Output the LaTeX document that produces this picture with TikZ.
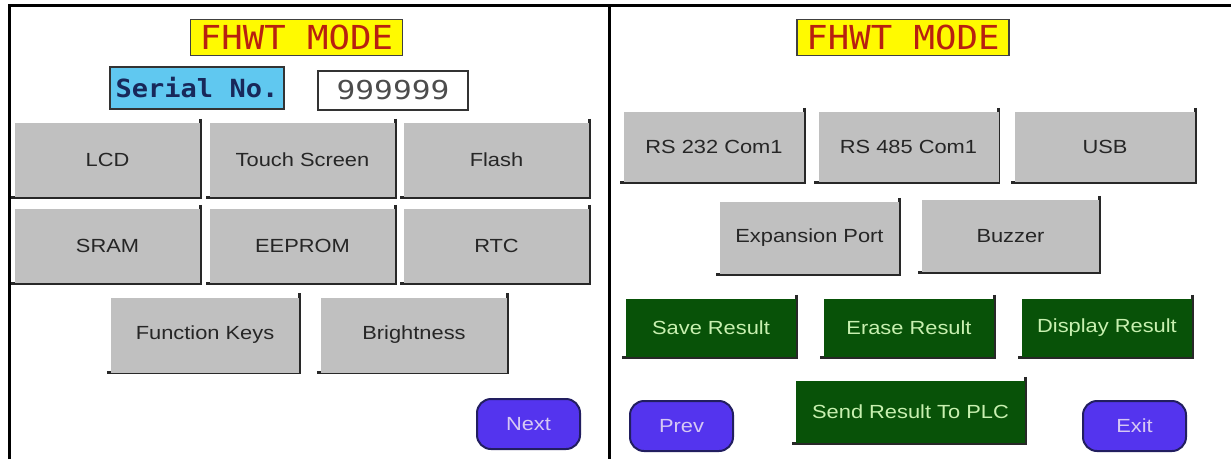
\documentclass[tikz,border=0pt]{standalone}
\usepackage{fontspec}
\setmainfont{Liberation Sans}[FakeStretch=1.15]
\newfontfamily\lcdfont{DejaVu Sans Mono}[FakeStretch=1.08]
\newfontfamily\numfont{DejaVu Sans Mono}[FakeStretch=1.2]
\usetikzlibrary{positioning}

\definecolor{btngrey}{RGB}{192,192,192}
\definecolor{btnedge}{RGB}{40,40,40}
\definecolor{okgreen}{RGB}{8,82,8}
\definecolor{oktext}{RGB}{200,240,176}
\definecolor{navpurple}{RGB}{84,52,238}
\definecolor{navedge}{RGB}{34,30,96}
\definecolor{navtext}{RGB}{214,200,244}
\definecolor{titleyellow}{RGB}{255,250,0}
\definecolor{titlered}{RGB}{184,32,16}
\definecolor{serialblue}{RGB}{96,200,240}
\definecolor{serialtext}{RGB}{24,40,90}

\begin{document}
\begin{tikzpicture}[x=1pt, y=-1pt,
  bevel/.style={append after command={\pgfextra{\draw[btnedge, line width=3pt] ([yshift=4pt]\tikzlastnode.north east) -- (\tikzlastnode.south east) -- ([xshift=-4pt]\tikzlastnode.south west);}}},
  greybtn/.style={rectangle, fill=btngrey, inner sep=0pt, text=black!85, font=\fontsize{19}{22}\selectfont, bevel},
  greenbtn/.style={rectangle, fill=okgreen, inner sep=0pt, text=oktext, font=\fontsize{19}{22}\selectfont, bevel},
  navbtn/.style={rectangle, rounded corners=14pt, draw=navedge, line width=2pt, fill=navpurple, inner sep=0pt, text=navtext, minimum width=103pt, minimum height=50pt, font=\fontsize{19}{22}\selectfont},
  titlebox/.style={rectangle, draw=black!75, line width=1.5pt, fill=titleyellow, text=titlered, inner sep=0pt, minimum width=212pt, minimum height=36pt, font=\lcdfont\fontsize{33}{36}\selectfont}]
\useasboundingbox (0,0) rectangle (1231,459);
\fill[white] (0,0) rectangle (1231,459);
\draw[line width=3pt] (9,459) |- (1231,5);
\draw[line width=3pt] (609,5) -- (609,459);

\node[titlebox] (ltitle) at (296.5,37.5) {FHWT MODE};
\node[rectangle, draw=black!80, line width=2pt, fill=serialblue, text=serialtext, inner sep=0pt, minimum width=174pt, minimum height=42pt, font=\lcdfont\bfseries\fontsize{25}{28}\selectfont] (serial) at (197,88) {Serial No.};
\node[rectangle, draw=black!80, line width=1.5pt, fill=white, text=black!70, inner sep=0pt, minimum width=150pt, minimum height=39pt, font=\numfont\fontsize{26}{28}\selectfont] (serialno) at (393,90.5) {999999};

\node[greybtn, minimum width=185pt, minimum height=74pt] (lcd) at (107.5,160) {LCD};
\node[greybtn, minimum width=185pt, minimum height=74pt] (touch) at (302.5,160) {Touch Screen};
\node[greybtn, minimum width=185pt, minimum height=74pt] (flash) at (496.5,160) {Flash};
\node[greybtn, minimum width=185pt, minimum height=74pt] (sram) at (107.5,246) {SRAM};
\node[greybtn, minimum width=185pt, minimum height=74pt] (eeprom) at (302.5,246) {EEPROM};
\node[greybtn, minimum width=185pt, minimum height=74pt] (rtc) at (496.5,246) {RTC};
\node[greybtn, minimum width=188pt, minimum height=75pt] (fkeys) at (205,335) {Function Keys};
\node[greybtn, minimum width=186pt, minimum height=75pt] (bright) at (414,335) {Brightness};
\node[navbtn] (next) at (528.5,424) {Next};

\node[titlebox] (rtitle) at (903,37.5) {FHWT MODE};
\node[greybtn, minimum width=180pt, minimum height=70pt] (rs232) at (714,147) {RS 232 Com1};
\node[greybtn, minimum width=180pt, minimum height=70pt] (rs485) at (908.5,147) {RS 485 Com1};
\node[greybtn, minimum width=180pt, minimum height=70pt] (usb) at (1105,147) {USB};
\node[greybtn, minimum width=179pt, minimum height=72pt] (expport) at (809.5,238) {Expansion Port};
\node[greybtn, minimum width=177pt, minimum height=72pt] (buzzer) at (1010.5,236) {Buzzer};
\node[greenbtn, minimum width=170pt, minimum height=58pt] (save) at (711,328) {Save Result};
\node[greenbtn, minimum width=170pt, minimum height=58pt] (erase) at (909,328) {Erase Result};
\node[greenbtn, minimum width=170pt, minimum height=58pt] (display) at (1107,328) {Display Result};
\node[greenbtn, minimum width=229pt, minimum height=62pt] (sendplc) at (910.5,412) {Send Result To PLC};
\node[navbtn] (prev) at (681.5,426) {Prev};
\node[navbtn] (exit) at (1134.5,426) {Exit};
\end{tikzpicture}
\end{document}
